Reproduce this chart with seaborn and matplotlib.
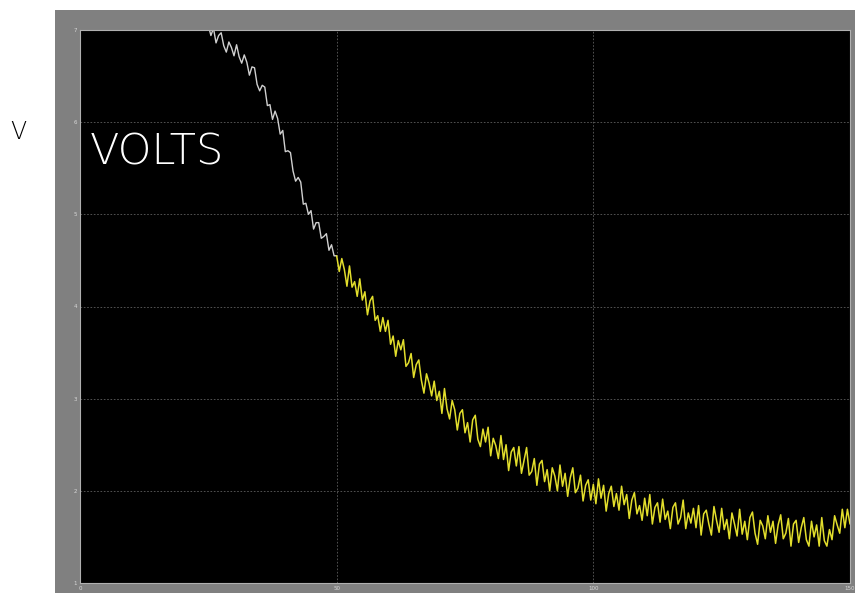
import numpy as np
import pandas as pd
import matplotlib
matplotlib.use("Agg")
import matplotlib.pyplot as plt
import seaborn as sns
from matplotlib.patches import Rectangle

# ---- data ----
x_ticks = [0, 50, 100, 150]
y_ticks = [1, 2, 3, 4, 5, 6, 7]
x_tick_labels = ["0", "50", "100", "150"]
y_tick_labels = ["1", "2", "3", "4", "5", "6", "7"]

white_start, white_step = 25.0, 0.5
white_v = [7.05, 6.94, 7.02, 6.86, 6.94, 6.97, 6.83, 6.76, 6.87, 6.81,
           6.72, 6.84, 6.71, 6.64, 6.73, 6.65, 6.51, 6.60, 6.59, 6.41,
           6.34, 6.40, 6.38, 6.18, 6.19, 6.03, 6.12, 6.04, 5.87, 5.91,
           5.68, 5.69, 5.67, 5.47, 5.36, 5.40, 5.35, 5.11, 5.12, 5.00,
           5.04, 4.84, 4.91, 4.91, 4.74, 4.76, 4.79, 4.61, 4.67, 4.55,
           4.55]

yellow_start, yellow_step = 50.0, 0.5
yellow_v = [4.55, 4.38, 4.52, 4.40, 4.22, 4.44, 4.21, 4.27, 4.11, 4.30,
            4.07, 4.16, 3.91, 4.06, 4.11, 3.85, 3.90, 3.73, 3.88, 3.73,
            3.85, 3.59, 3.68, 3.46, 3.63, 3.53, 3.64, 3.35, 3.39, 3.49,
            3.23, 3.37, 3.42, 3.20, 3.06, 3.27, 3.17, 3.03, 3.19, 2.98,
            3.08, 2.84, 3.11, 2.89, 2.78, 2.98, 2.88, 2.66, 2.84, 2.88,
            2.63, 2.74, 2.53, 2.77, 2.82, 2.56, 2.48, 2.67, 2.53, 2.69,
            2.38, 2.57, 2.49, 2.35, 2.60, 2.34, 2.50, 2.22, 2.42, 2.47,
            2.27, 2.48, 2.19, 2.33, 2.47, 2.17, 2.21, 2.35, 2.06, 2.29,
            2.33, 2.10, 2.23, 2.00, 2.25, 2.16, 2.00, 2.28, 2.05, 2.19,
            1.94, 2.14, 2.25, 1.98, 2.03, 2.17, 1.89, 2.06, 2.12, 1.90,
            2.07, 1.86, 2.13, 1.92, 2.06, 1.78, 1.97, 2.05, 1.83, 1.97,
            1.79, 2.05, 1.85, 1.96, 1.70, 1.90, 1.98, 1.75, 1.84, 1.68,
            1.92, 1.73, 1.96, 1.64, 1.82, 1.87, 1.66, 1.91, 1.69, 1.78,
            1.59, 1.82, 1.87, 1.64, 1.71, 1.90, 1.59, 1.76, 1.65, 1.81,
            1.60, 1.84, 1.52, 1.75, 1.79, 1.64, 1.52, 1.83, 1.68, 1.55,
            1.81, 1.58, 1.69, 1.48, 1.76, 1.64, 1.51, 1.80, 1.53, 1.67,
            1.47, 1.71, 1.77, 1.54, 1.42, 1.68, 1.62, 1.48, 1.73, 1.55,
            1.67, 1.43, 1.63, 1.74, 1.48, 1.54, 1.70, 1.40, 1.64, 1.68,
            1.44, 1.60, 1.71, 1.47, 1.40, 1.67, 1.50, 1.63, 1.40, 1.71,
            1.46, 1.40, 1.58, 1.47, 1.73, 1.63, 1.54, 1.80, 1.60, 1.80,
            1.64]

df_white = pd.DataFrame({"t": white_start + white_step * np.arange(len(white_v)),
                         "v": white_v})
df_yellow = pd.DataFrame({"t": yellow_start + yellow_step * np.arange(len(yellow_v)),
                          "v": yellow_v})

sns.set_style("dark")
plt.rcParams["font.family"] = ["DejaVu Sans"]

fig = plt.figure(figsize=(8.55, 5.93), dpi=100, facecolor="white")
# gray scope frame (behind the axes)
frame = Rectangle((55 / 855, 0), 1 - 55 / 855, 583 / 593,
                  transform=fig.transFigure, facecolor="#808080",
                  edgecolor="none", zorder=-10)
fig.add_artist(frame)

ax = fig.add_axes([80 / 855, 10 / 593, 770 / 855, 553 / 593])
ax.set_zorder(5)
ax.set_facecolor("black")

sns.lineplot(data=df_white, x="t", y="v", ax=ax, color="#d0d0d0",
             linewidth=1.0, estimator=None)
sns.lineplot(data=df_yellow, x="t", y="v", ax=ax, color="#e2de2c",
             linewidth=1.1, estimator=None)

ax.set_xlim(0, 150)
ax.set_ylim(1, 7)
ax.set_xticks(x_ticks)
ax.set_xticklabels(x_tick_labels)
ax.set_yticks(y_ticks)
ax.set_yticklabels(y_tick_labels)
ax.tick_params(axis="both", labelsize=4, colors="#d8d8d8", length=0, pad=2)
ax.grid(True, color="#5e5e5e", linestyle=(0, (2, 2)), linewidth=0.6)
ax.set_xlabel("")
ax.set_ylabel("")
for s in ax.spines.values():
    s.set_color("#b0b0b0")
    s.set_linewidth(0.8)

ax.text(0.012, 0.779, "VOLTS", transform=ax.transAxes, color="white",
        fontsize=31, fontweight="light", va="center", ha="left",
        fontfamily="DejaVu Sans")
fig.text(18 / 855, 1 - 132 / 593, "V", color="black", fontsize=17,
         fontweight="light", ha="center", va="center")

fig.savefig("out.png", dpi=100, facecolor="white")
